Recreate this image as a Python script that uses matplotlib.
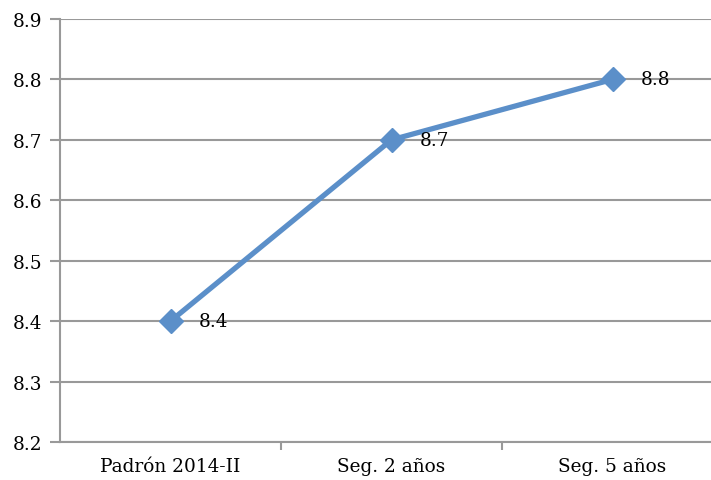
import numpy as np
import matplotlib
matplotlib.use("Agg")
import matplotlib.pyplot as plt

categorias = ["Padrón 2014-II", "Seg. 2 años", "Seg. 5 años"]
valores = [8.4, 8.7, 8.8]
etiquetas = ["8.4", "8.7", "8.8"]

plt.rcParams['font.family'] = ['DejaVu Serif']

fig = plt.figure(figsize=(7.11, 4.81), dpi=100)
ax = fig.add_axes([60/711, 38/481, 663/711, 423/481])

x = np.arange(len(categorias))
ax.plot(x, valores, color="#5b8fc9", lw=3.8, marker="D", ms=12,
        solid_capstyle="butt", zorder=3, clip_on=False)
for xi, v, t in zip(x, valores, etiquetas):
    ax.annotate(t, (xi, v), xytext=(20, 0), textcoords="offset points",
                va="center", ha="left", fontsize=13.3)

ax.set_xlim(-0.5, 2.5)
ax.set_ylim(8.2, 8.9)
ax.set_yticks(np.arange(8.2, 8.95, 0.1))
ax.set_yticklabels([f"{v:.1f}" for v in np.arange(8.2, 8.95, 0.1)])
ax.set_xticks(x)
ax.set_xticklabels(categorias)
ax.set_xticks([0.5, 1.5], minor=True)
ax.tick_params(axis="x", which="major", length=0, pad=11, labelsize=13.3)
ax.tick_params(axis="x", which="minor", length=6, width=1.5, color="#999999", direction="out")
ax.tick_params(axis="y", length=7, width=1.5, color="#999999", pad=6, labelsize=13.3)
ax.grid(axis="y", color="#999999", lw=1.5)
ax.set_axisbelow(True)
for s in ["top", "right"]:
    ax.spines[s].set_visible(False)
for s in ["left", "bottom"]:
    ax.spines[s].set_color("#999999")
    ax.spines[s].set_linewidth(1.5)

fig.savefig("out.png", dpi=100)
